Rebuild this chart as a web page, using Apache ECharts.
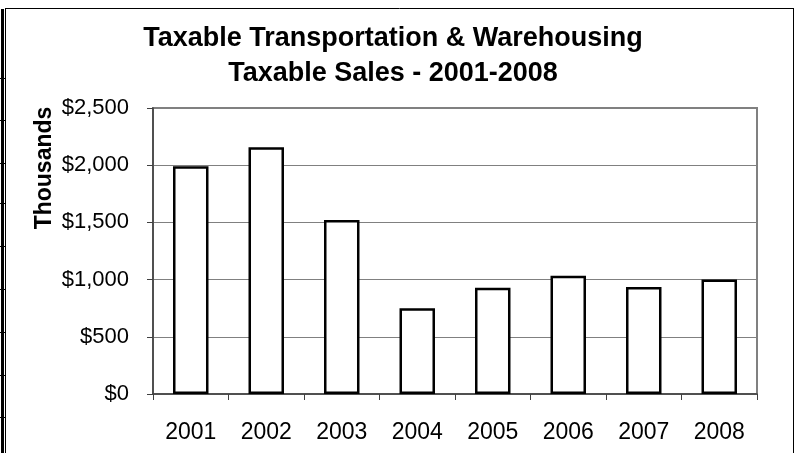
<!DOCTYPE html>
<html>
<head>
<meta charset="utf-8">
<script src="https://cdn.jsdelivr.net/npm/echarts@6/dist/echarts.min.js"></script>
<style>
html,body{margin:0;padding:0;background:#fff;}
#chart{width:799px;height:453px;}
</style>
</head>
<body>
<div id="chart"></div>
<script>
const categories = ['2001','2002','2003','2004','2005','2006','2007','2008'];
const salesThousands = [1990, 2156, 1521, 749, 929, 1034, 935, 1000];
const yTicks = [0, 500, 1000, 1500, 2000, 2500];
const titleText = 'Taxable Transportation & Warehousing\nTaxable Sales - 2001-2008';
const yAxisName = 'Thousands';

const FONT = '"Liberation Sans", Arial, sans-serif';
const chart = echarts.init(document.getElementById('chart'), null, {renderer:'canvas'});

function fmt(v){ return '$' + v.toLocaleString('en-US'); }

const leftMarks = [78,120,163,203,246,289,332,375,417];
const graphics = [
  {type:'rect', shape:{x:1,y:9,width:3,height:444}, style:{fill:'#000'}, silent:true},
  {type:'line', shape:{x1:5.5,y1:8,x2:5.5,y2:453}, style:{stroke:'#000',lineWidth:1}, silent:true},
  {type:'line', shape:{x1:5,y1:8.5,x2:794,y2:8.5}, style:{stroke:'#000',lineWidth:1}, silent:true},
  {type:'line', shape:{x1:793.5,y1:8,x2:793.5,y2:453}, style:{stroke:'#000',lineWidth:1}, silent:true}
];
leftMarks.forEach(y => graphics.push({type:'line', shape:{x1:0,y1:y+0.5,x2:6,y2:y+0.5}, style:{stroke:'#000',lineWidth:1}, silent:true}));

chart.setOption({
  animation:false,
  backgroundColor:'#fff',
  title:{
    text:titleText,
    left:388, top:16, textAlign:'center',
    textStyle:{fontFamily:FONT,fontSize:27,fontWeight:'bold',color:'#000',lineHeight:35}
  },
  grid:{left:153, top:108, width:604, height:286, show:true, borderColor:'#808080', borderWidth:2, backgroundColor:'#fff'},
  xAxis:{
    type:'category', data:categories,
    axisLine:{lineStyle:{color:'#404040',width:1.5}},
    axisTick:{show:true, length:6, alignWithLabel:false, lineStyle:{color:'#404040'}},
    axisLabel:{color:'#000',fontFamily:FONT,fontSize:23,margin:27}
  },
  yAxis:{
    type:'value', min:yTicks[0], max:yTicks[yTicks.length-1], interval:500,
    name:yAxisName, nameLocation:'middle', nameRotate:90, nameGap:97, nameMoveOverlap:false,
    nameTextStyle:{fontFamily:FONT,fontSize:23,fontWeight:'bold',color:'#000',padding:[0,0,0,166]},
    axisLine:{show:true,lineStyle:{color:'#404040',width:1.5}},
    axisTick:{show:true,length:6,lineStyle:{color:'#404040'}},
    splitLine:{show:true,lineStyle:{color:'#808080',width:1}},
    axisLabel:{color:'#000',fontFamily:FONT,fontSize:22,margin:24,formatter:fmt}
  },
  graphic:graphics,
  series:[{
    type:'bar', data:salesThousands, barWidth:'47%',
    itemStyle:{color:'#fff', borderColor:'#000', borderWidth:2.5}
  }]
});
</script>
</body>
</html>
